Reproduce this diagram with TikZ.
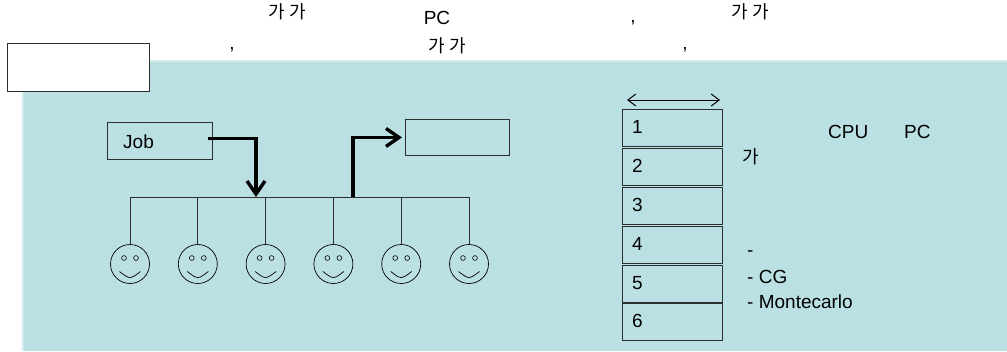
\documentclass[tikz,border=0pt]{standalone}
\usepackage{fontspec}
\setmainfont{Liberation Sans}
\newfontfamily\kr{Noto Sans CJK KR}
\usetikzlibrary{arrows.meta}
\definecolor{tealbg}{RGB}{186,224,227}
\definecolor{tealedge}{RGB}{208,235,237}
\definecolor{edge}{RGB}{45,45,45}
\begin{document}
\begin{tikzpicture}[x=1pt,y=-1pt,
  txt/.style={font=\fontsize{19}{22}\selectfont, inner sep=0pt},
  krtxt/.style={font=\kr\fontsize{18}{22}\selectfont, inner sep=0pt},
  box/.style={draw=edge, line width=0.9pt, inner sep=0pt},
  cell/.style={box, minimum width=100pt, minimum height=37pt, anchor=north west},
  face/.style={draw=black, circle, line width=0.7pt, minimum size=39pt, inner sep=0pt},
  wire/.style={draw=edge, line width=0.9pt},
  bigarrow/.style={line width=3.4pt, -{Straight Barb[length=13pt,width=18pt,line width=3.4pt]}},
  dblarrow/.style={line width=1pt, {Straight Barb[length=8pt,width=12pt]}-{Straight Barb[length=8pt,width=12pt]}}]
\useasboundingbox (0,0) rectangle (1007,351);
\fill[white] (0,0) rectangle (1007,351);
\fill[tealedge] (22,60) rectangle (1007,351);
\fill[tealbg] (24,62) rectangle (1007,351);
% title box
\node[box, fill=white, minimum width=142pt, minimum height=48pt, anchor=north west] (title) at (7,43) {};
% top text, line 1
\node[krtxt] (t1) at (287,12) {가 가};
\node[txt, anchor=base] (t2) at (437,24) {PC};
\node[txt, anchor=base] (t3) at (633,22) {,};
\node[krtxt] (t4) at (750,12) {가 가};
% top text, line 2
\node[txt, anchor=base] (t5) at (232,49) {,};
\node[krtxt] (t6) at (447,46) {가 가};
\node[txt, anchor=base] (t7) at (685,49) {,};
% job and result boxes
\node[box, minimum width=105pt, minimum height=37pt, anchor=north west] (job) at (107,122) {};
\node[txt, anchor=west] (jobt) at (123,142) {Job};
\node[box, minimum width=104pt, minimum height=36pt, anchor=north west] (res) at (405,119) {};
% bus
\coordinate (bL) at (130,197);
\coordinate (bR) at (469,197);
\draw[wire] (bL) -- (bR);
\foreach \i/\x in {1/130,2/197.8,3/265.6,4/333.4,5/401.2,6/469}{
  \node[face] (f\i) at (\x,264) {};
  \draw[wire] (\x,197) -- (f\i.north);
  \draw[line width=0.6pt] (\x-6,258) circle (2.4pt) (\x+6,258) circle (2.4pt);
  \draw[line width=0.7pt] (\x-10.5,271.5) .. controls (\x,279.5) .. (\x+10.5,271.5);
}
% thick arrows
\coordinate (j1) at (256,197);
\coordinate (j2) at (353,197);
\draw[bigarrow] ([xshift=-5pt,yshift=2.5pt]job.east) -| (j1);
\draw[bigarrow] (j2) |- ([xshift=-3pt]res.west);
% column of cells
\coordinate (dA) at (627,100);
\coordinate (dB) at (720,100);
\draw[dblarrow] (dA) -- (dB);
\foreach \k in {1,...,6}{
  \node[cell] (c\k) at (622,{109.3+(\k-1)*38.8}) {};
  \node[txt, anchor=base west] (l\k) at (632,{109.3+(\k-1)*38.8+24.5}) {\k};
}
% right texts
\node[txt, anchor=base west] (cpu) at (828,138) {CPU};
\node[txt, anchor=base west] (pc) at (904,138) {PC};
\node[krtxt, anchor=west] (ga) at (742,157) {가};
\node[txt, anchor=base west] (d1) at (747,256) {-};
\node[txt, anchor=base west] (d2) at (747,283) {- CG};
\node[txt, anchor=base west] (d3) at (747,308) {- Montecarlo};
\end{tikzpicture}
\end{document}
